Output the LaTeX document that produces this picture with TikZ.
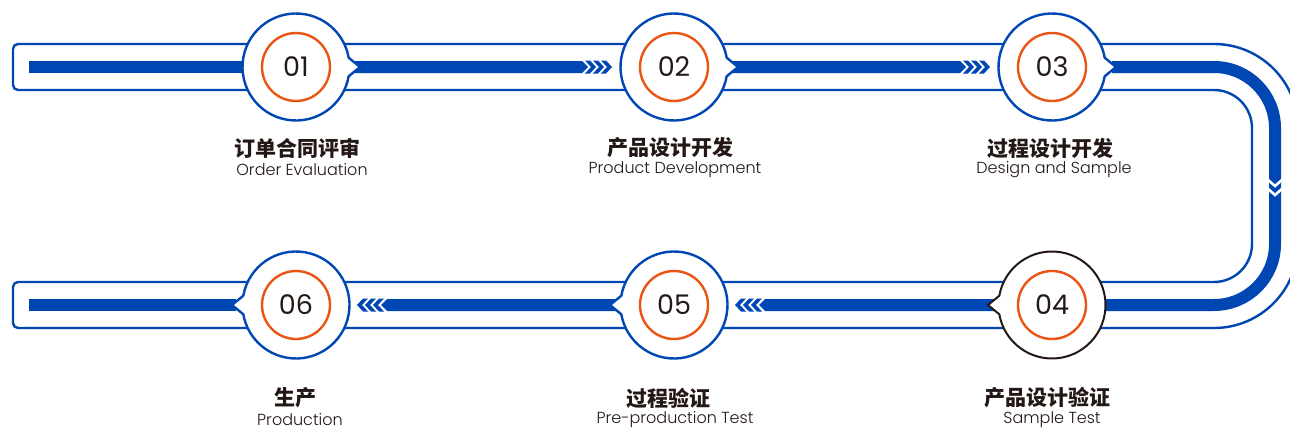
\documentclass[tikz,border=0pt]{standalone}
\usepackage{fontspec}
\usetikzlibrary{calc}
\newfontfamily\enfont{Poppins}[UprightFont={* Light}]
\newfontfamily\numfont{Poppins}
\newfontfamily\cjk{Noto Sans CJK SC}
\definecolor{tblue}{HTML}{0047B4}
\definecolor{torange}{HTML}{EA5514}
\definecolor{tdark}{HTML}{231815}
\tikzset{
  trackline/.style={draw=tblue, line width=2.4pt},
  bar/.style={draw=tblue, line width=12pt},
  bubble/.style={draw=tblue, fill=white, line width=2.4pt},
  darkbubble/.style={draw=tdark, fill=white, line width=2pt},
  ring/.style={draw=torange, line width=2.4pt, circle, minimum size=68pt, inner sep=0pt,
    font=\numfont\fontsize{27}{27}\selectfont, text=tdark},
  zh/.style={font=\cjk\bfseries\fontsize{21}{21}\selectfont, text=tdark, inner sep=0pt},
  en/.style={font=\enfont\fontsize{16}{16}\selectfont, text=tdark, inner sep=0pt}
}
% right-pointing bar segment: start x, end x of body, y
\newcommand\rsegment[3]{%
  \fill[tblue] (#1,#3-6) -- (#2,#3-6) -- (#2+6,#3) -- (#2,#3+6) -- (#1,#3+6) -- cycle;
  \foreach \a in {3,11,19}{%
    \fill[tblue] (#2+\a,#3-6.5) -- (#2+\a+5,#3-6.5) -- (#2+\a+11,#3) -- (#2+\a+5,#3+6.5) -- (#2+\a,#3+6.5) -- (#2+\a+6,#3) -- cycle;}}
\newcommand\lsegment[3]{%
  \fill[tblue] (#1,#3-6) -- (#2,#3-6) -- (#2-6,#3) -- (#2,#3+6) -- (#1,#3+6) -- cycle;
  \foreach \a in {3,11,19}{%
    \fill[tblue] (#2-\a,#3-6.5) -- (#2-\a-5,#3-6.5) -- (#2-\a-11,#3) -- (#2-\a-5,#3+6.5) -- (#2-\a,#3+6.5) -- (#2-\a-6,#3) -- cycle;}}
\newcommand\bubbleR[2]{\draw[#2] ($(#1)+(10:53.5)$) arc(10:350:53.5) -- ($(#1)+(64,0)$) -- cycle;}
\newcommand\bubbleL[2]{\draw[#2] ($(#1)+(190:53.5)$) arc(190:530:53.5) -- ($(#1)+(-64,0)$) -- cycle;}
\begin{document}
\begin{tikzpicture}[x=1pt,y=-1pt]
\useasboundingbox (0,0) rectangle (1290,431);
\fill[white] (0,0) rectangle (1290,431);
% circle centres
\coordinate (c1) at (296,67);
\coordinate (c2) at (674,67);
\coordinate (c3) at (1052,67);
\coordinate (c4) at (1052,305);
\coordinate (c5) at (674,305);
\coordinate (c6) at (296,305);
\coordinate (startL) at (29,67);
\coordinate (endL) at (29,305);
% track outline
\draw[trackline] (1214,44) -- (18,44) arc(-90:-180:5) -- (13,85) arc(180:90:5)
  -- (1214,90) arc(-90:0:38) -- (1252,244) arc(0:90:38)
  -- (18,282) arc(270:180:5) -- (13,323) arc(180:90:5)
  -- (1214,328) arc(90:0:84) -- (1298,128) arc(0:-90:84) -- cycle;
% thick bar
\draw[bar] (startL) -- (c1);
\rsegment{354}{582}{67}
\rsegment{732}{960}{67}
\draw[bar] ($(c3)+(60,0)$) -- (1214,67) arc(-90:0:61) -- (1275,244) arc(0:90:61) -- (c4);
\foreach \s in {179,188}{\draw[white, line width=2.6pt] (1267,\s) -- (1275,\s+7) -- (1283,\s);}
\lsegment{994}{765}{305}
\lsegment{616}{387}{305}
\draw[bar] ($(c6)+(-60,0)$) -- (endL);
% bubbles
\bubbleR{c1}{bubble}
\bubbleR{c2}{bubble}
\bubbleR{c3}{bubble}
\bubbleL{c4}{darkbubble}
\bubbleL{c5}{bubble}
\bubbleL{c6}{bubble}
% rings with numbers
\node[ring] (n1) at (c1) {01};
\node[ring] (n2) at (c2) {02};
\node[ring] (n3) at (c3) {03};
\node[ring] (n4) at (c4) {04};
\node[ring] (n5) at (c5) {05};
\node[ring] (n6) at (c6) {06};
% labels
\node[zh] (z1) at (297,148) {订单合同评审};
\node[en] (e1) at (302,170) {Order Evaluation};
\node[zh] (z2) at (670,148) {产品设计开发};
\node[en] (e2) at (675,170) {Product Development};
\node[zh] (z3) at (1050,148) {过程设计开发};
\node[en] (e3) at (1054,170) {Design and Sample};
\node[zh] (z4) at (1047,398) {产品设计验证};
\node[en] (e4) at (1052,420) {Sample Test};
\node[zh] (z5) at (668,398) {过程验证};
\node[en] (e5) at (675,420) {Pre-production Test};
\node[zh] (z6) at (295,398) {生产};
\node[en] (e6) at (300,420) {Production};
\end{tikzpicture}
\end{document}
